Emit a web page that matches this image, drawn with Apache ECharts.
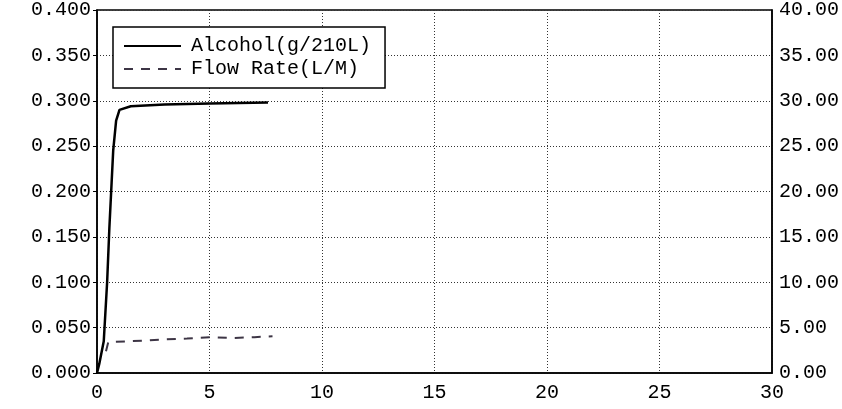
<!DOCTYPE html>
<html>
<head>
    <meta charset="utf-8" />
    <style>
        html, body {
        margin: 0;
        padding: 0;
        background-color: #fff;
        }
    </style>
    <script src="https://cdn.jsdelivr.net/npm/echarts@6/dist/echarts.min.js"></script>
</head>
<body>
    <div id="chart" style="width: 842px; height: 409px;"></div>

    <script type="text/javascript">
        // data: [time(s), value]
        var alcoholName = 'Alcohol(g/210L)';
        var flowName = 'Flow Rate(L/M)';
        var alcoholData = [
            [0, 0], [0.1, 0.01], [0.3, 0.035], [0.45, 0.1], [0.55, 0.16],
            [0.65, 0.21], [0.72, 0.245], [0.85, 0.278], [1.0, 0.29],
            [1.5, 0.294], [3, 0.296], [5, 0.297], [7.6, 0.298]
        ];
        var flowData = [
            [0.4, 2.4], [0.5, 3.4], [1.5, 3.5], [3, 3.7], [4, 3.8],
            [5, 3.95], [6, 3.85], [7, 3.95], [7.8, 4.05]
        ];

        var monoFont = '"Liberation Mono", "DejaVu Sans Mono", monospace';
        var gridLine = { show: true, lineStyle: { color: '#333', type: [1, 2], width: 1 } };

        var myChart = echarts.init(document.getElementById('chart'));
        var options = {
            animation: false,
            backgroundColor: '#fff',
            grid: {
                left: 97, right: 65, top: 9, bottom: 36,
                show: true, borderColor: '#000', borderWidth: 1.5
            },
            legend: {
                orient: 'vertical',
                left: 113, top: 27,
                padding: [9, 14, 9, 10],
                itemGap: 3,
                itemWidth: 57,
                itemHeight: 20,
                borderColor: '#000',
                borderWidth: 1.5,
                backgroundColor: '#fff',
                itemStyle: { opacity: 0 },  // line only, no symbol
                textStyle: { fontFamily: monoFont, fontSize: 20, color: '#000', padding: [0, 0, 0, 5] },
                data: [alcoholName, flowName]
            },
            xAxis: {
                type: 'value',
                min: 0, max: 30, interval: 5,
                axisLine: { lineStyle: { color: '#000', width: 1.5 } },
                axisTick: { show: false },
                axisLabel: { fontFamily: monoFont, fontSize: 20, color: '#000', margin: 10 },
                splitLine: gridLine
            },
            yAxis: [
                {
                    type: 'value',
                    min: 0, max: 0.4, interval: 0.05,
                    axisLine: { show: true, lineStyle: { color: '#000', width: 1.5 } },
                    axisTick: { show: true, length: 4, lineStyle: { color: '#000' } },
                    axisLabel: {
                        fontFamily: monoFont, fontSize: 20, color: '#000', margin: 6,
                        formatter: function (v) { return v.toFixed(3); }
                    },
                    splitLine: gridLine
                },
                {
                    type: 'value',
                    position: 'right',
                    min: 0, max: 40, interval: 5,
                    axisLine: { show: true, lineStyle: { color: '#000', width: 1.5 } },
                    axisTick: { show: false },
                    axisLabel: {
                        fontFamily: monoFont, fontSize: 20, color: '#000', margin: 7,
                        formatter: function (v) { return v.toFixed(2); }
                    },
                    splitLine: { show: false }
                }
            ],
            series: [
                {
                    name: alcoholName,
                    type: 'line',
                    yAxisIndex: 0,
                    symbol: 'none',
                    data: alcoholData,
                    itemStyle: { color: '#000' },
                    lineStyle: { color: '#000', width: 2.5 }
                },
                {
                    name: flowName,
                    type: 'line',
                    yAxisIndex: 1,
                    symbol: 'none',
                    data: flowData,
                    itemStyle: { color: '#3d3545' },
                    lineStyle: { color: '#3d3545', width: 2, type: [9, 8] }
                }
            ]
        };
        myChart.setOption(options);
    </script>
</body>
</html>
